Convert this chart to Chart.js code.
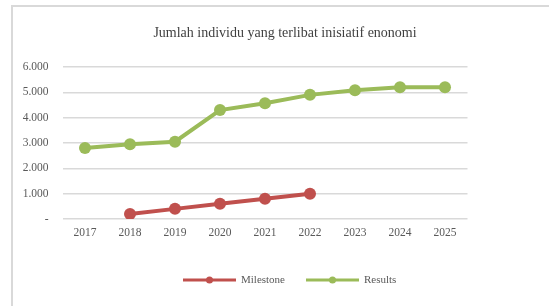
<!DOCTYPE html>
<html>
<head>
<meta charset="utf-8">
<script src="https://cdn.jsdelivr.net/npm/chart.js@4"></script>
<style>
  html, body { margin: 0; padding: 0; background: #fff; }
  #wrap { position: relative; width: 549px; height: 306px; overflow: hidden; }
  #frame { position: absolute; left: 11px; top: 5px; width: 560px; height: 320px;
           border-left: 2px solid #d9d9d9; border-top: 2px solid #d9d9d9; }
  canvas { position: absolute; left: 0; top: 0; }
</style>
</head>
<body>
<div id="wrap">
  <div id="frame"></div>
  <canvas id="chart" width="549" height="306"></canvas>
</div>
<script>
// chart data
const years = ["2017", "2018", "2019", "2020", "2021", "2022", "2023", "2024", "2025"];
const milestone = [null, 200, 400, 600, 800, 1000, null, null, null];
const results = [2800, 2950, 3050, 4300, 4570, 4900, 5080, 5200, 5200];
const titleText = "Jumlah individu yang terlibat inisiatif enonomi";

const RED = "#c0504d";
const GREEN = "#9bbb59";
const FONT = "'Liberation Serif', serif";

const fmtTick = (v) => (v === 0 ? "-" : String(v).replace(/\B(?=(\d{3})+(?!\d))/g, "."));

// title centred on the whole frame + legend drawn as line with dot, like the office chart
const officeDecor = {
  id: "officeDecor",
  afterDraw(chart) {
    const ctx = chart.ctx;
    ctx.save();
    ctx.fillStyle = "#404040";
    ctx.font = "14px " + FONT;
    ctx.textAlign = "center";
    ctx.textBaseline = "middle";
    ctx.fillText(titleText, 285, 33);

    const y = 280;
    const items = [
      { x: 183, ds: chart.data.datasets[0] },
      { x: 306, ds: chart.data.datasets[1] },
    ];
    ctx.textAlign = "left";
    for (const it of items) {
      ctx.strokeStyle = it.ds.borderColor;
      ctx.lineWidth = 3;
      ctx.beginPath();
      ctx.moveTo(it.x, y);
      ctx.lineTo(it.x + 53, y);
      ctx.stroke();
      ctx.fillStyle = it.ds.borderColor;
      ctx.beginPath();
      ctx.arc(it.x + 26.5, y, 3.5, 0, Math.PI * 2);
      ctx.fill();
      ctx.fillStyle = "#595959";
      ctx.font = "11px " + FONT;
      ctx.fillText(it.ds.label, it.x + 58, y);
    }
    ctx.restore();
  },
};

new Chart(document.getElementById("chart"), {
  type: "line",
  data: {
    labels: years,
    datasets: [
      {
        label: "Milestone",
        data: milestone,
        borderColor: RED,
        backgroundColor: RED,
        borderWidth: 4,
        pointRadius: 6,
        pointBorderWidth: 0,
        tension: 0,
      },
      {
        label: "Results",
        data: results,
        borderColor: GREEN,
        backgroundColor: GREEN,
        borderWidth: 4,
        pointRadius: 6,
        pointBorderWidth: 0,
        tension: 0,
      },
    ],
  },
  options: {
    responsive: false,
    animation: false,
    layout: { padding: { left: 0, right: 81.5, top: 67, bottom: 60 } },
    plugins: {
      legend: { display: false },
      tooltip: { enabled: false },
      title: { display: false },
    },
    scales: {
      x: {
        offset: true,
        grid: { display: false, drawTicks: false },
        border: { display: false },
        ticks: { color: "#595959", padding: 7, font: { family: FONT, size: 11.5 } },
        afterFit: (a) => { a.height = 27; },
      },
      y: {
        min: 0,
        max: 6000,
        grid: { color: "#d9d9d9", lineWidth: 1.5, drawTicks: false },
        border: { display: false },
        ticks: {
          stepSize: 1000,
          color: "#595959",
          padding: 14,
          font: { family: FONT, size: 11.5 },
          callback: fmtTick,
        },
        afterFit: (a) => { a.width = 62.5; },
      },
    },
  },
  plugins: [officeDecor],
});
</script>
</body>
</html>
